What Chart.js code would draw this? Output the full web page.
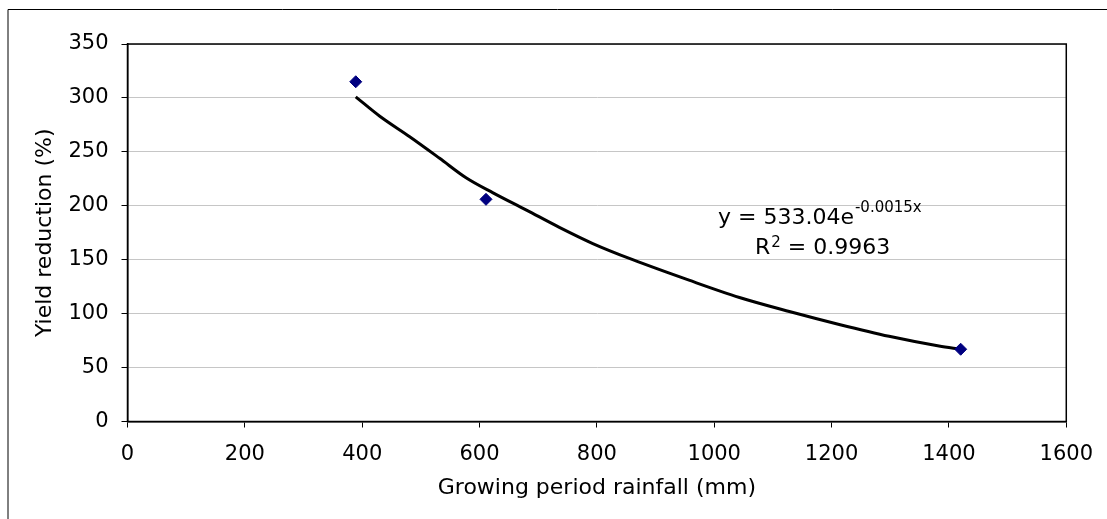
<!DOCTYPE html>
<html>
<head>
<meta charset="utf-8">
<script src="https://cdn.jsdelivr.net/npm/chart.js@4/dist/chart.umd.min.js"></script>
<style>
  html, body { margin: 0; padding: 0; background: #fff; overflow: hidden; }
  canvas { display: block; }
</style>
</head>
<body>
<canvas id="chart" width="1107" height="519"></canvas>
<script>
// measured points
const rainfall = [389, 611, 1420];
const yieldReduction = [315, 206, 67];

// exponential trendline
const trendX = [389, 430, 481, 532, 577, 623, 680, 736, 793, 861, 957, 1043, 1128, 1213, 1298, 1383, 1420];
const trendY = [301, 283, 264, 244, 226, 212, 196, 180, 165, 150, 131, 115, 102, 90, 79, 70, 67];

const xTicks = [0, 200, 400, 600, 800, 1000, 1200, 1400, 1600];
const yTicks = [0, 50, 100, 150, 200, 250, 300, 350];

const eqMain = "y = 533.04e";
const eqExp = "-0.0015x";
const r2Value = " = 0.9963";

const FONT = "'DejaVu Sans', Verdana, sans-serif";

// white background + outer frame + plot box + equation
const framePlugin = {
  id: "frame",
  beforeDraw(chart) {
    const ctx = chart.ctx;
    ctx.save();
    ctx.fillStyle = "#fff";
    ctx.fillRect(0, 0, chart.width, chart.height);
    // only left and top edges of the outer frame are in view
    ctx.strokeStyle = "#000";
    ctx.lineWidth = 1;
    ctx.beginPath();
    ctx.moveTo(8, chart.height);
    ctx.lineTo(8, 9.5);
    ctx.lineTo(chart.width, 9.5);
    ctx.stroke();
    ctx.restore();
  },
  beforeDatasetsDraw(chart) {
    const a = chart.chartArea;
    const ctx = chart.ctx;
    ctx.save();
    ctx.strokeStyle = "#000";
    ctx.lineWidth = 1.5;
    ctx.strokeRect(a.left, a.top, a.right - a.left, a.bottom - a.top);
    ctx.restore();
  },
  afterDraw(chart) {
    const ctx = chart.ctx;
    ctx.save();
    ctx.fillStyle = "#000";
    ctx.textBaseline = "alphabetic";
    ctx.textAlign = "left";
    ctx.font = "22px " + FONT;
    let x = 718;
    ctx.fillText(eqMain, x, 224);
    x += ctx.measureText(eqMain).width + 1;
    ctx.font = "15px " + FONT;
    ctx.fillText(eqExp, x, 212);

    x = 755;
    ctx.font = "22px " + FONT;
    ctx.fillText("R", x, 254);
    x += ctx.measureText("R").width + 1;
    ctx.font = "15px " + FONT;
    ctx.fillText("2", x, 247);
    x += ctx.measureText("2").width;
    ctx.font = "22px " + FONT;
    ctx.fillText(r2Value, x, 254);
    ctx.restore();
  }
};

new Chart(document.getElementById("chart"), {
  type: "scatter",
  data: {
    datasets: [
      {
        label: "Trendline",
        type: "line",
        data: trendX.map((x, i) => ({ x: x, y: trendY[i] })),
        borderColor: "#000",
        borderWidth: 3,
        pointRadius: 0,
        cubicInterpolationMode: "monotone",
        fill: false,
        order: 2,
      },
      {
        label: "Yield reduction",
        data: rainfall.map((x, i) => ({ x: x, y: yieldReduction[i] })),
        pointStyle: "rectRot",
        pointRadius: 6,
        backgroundColor: "#000080",
        borderColor: "#000080",
        borderWidth: 1,
        order: 1,
      },
    ],
  },
  options: {
    responsive: false,
    animation: false,
    devicePixelRatio: 1,
    layout: { padding: { left: 0, top: 44, right: 39.5, bottom: 0 } },
    plugins: {
      legend: { display: false },
      tooltip: { enabled: false },
    },
    scales: {
      x: {
        type: "linear",
        min: 0,
        max: 1600,
        afterBuildTicks: (scale) => { scale.ticks = xTicks.map((v) => ({ value: v })); },
        afterFit: (scale) => { scale.height = 97.5; },
        grid: { drawOnChartArea: false, tickColor: "#000", tickLength: 6, tickWidth: 1 },
        border: { color: "#000", width: 1.5 },
        ticks: {
          color: "#000",
          font: { family: FONT, size: 21 },
          padding: 14,
          maxRotation: 0,
          callback: (v) => String(v),
        },
        title: {
          display: true,
          text: "Growing period rainfall (mm)",
          color: "#000",
          font: { family: FONT, size: 22 },
          padding: { top: 0, bottom: 18 },
        },
      },
      y: {
        min: 0,
        max: 350,
        afterBuildTicks: (scale) => { scale.ticks = yTicks.map((v) => ({ value: v })); },
        afterFit: (scale) => { scale.width = 127.5; },
        grid: { color: "#c6c6c6", lineWidth: 1, tickColor: "#000", tickLength: 6 },
        border: { color: "#000", width: 1.5 },
        ticks: { color: "#000", font: { family: FONT, size: 21 }, padding: 13, callback: (v) => String(v) },
        title: {
          display: true,
          text: "Yield reduction (%)",
          color: "#000",
          font: { family: FONT, size: 22 },
          padding: { top: 32, bottom: 0 },
        },
      },
    },
  },
  plugins: [framePlugin],
});
</script>
</body>
</html>
